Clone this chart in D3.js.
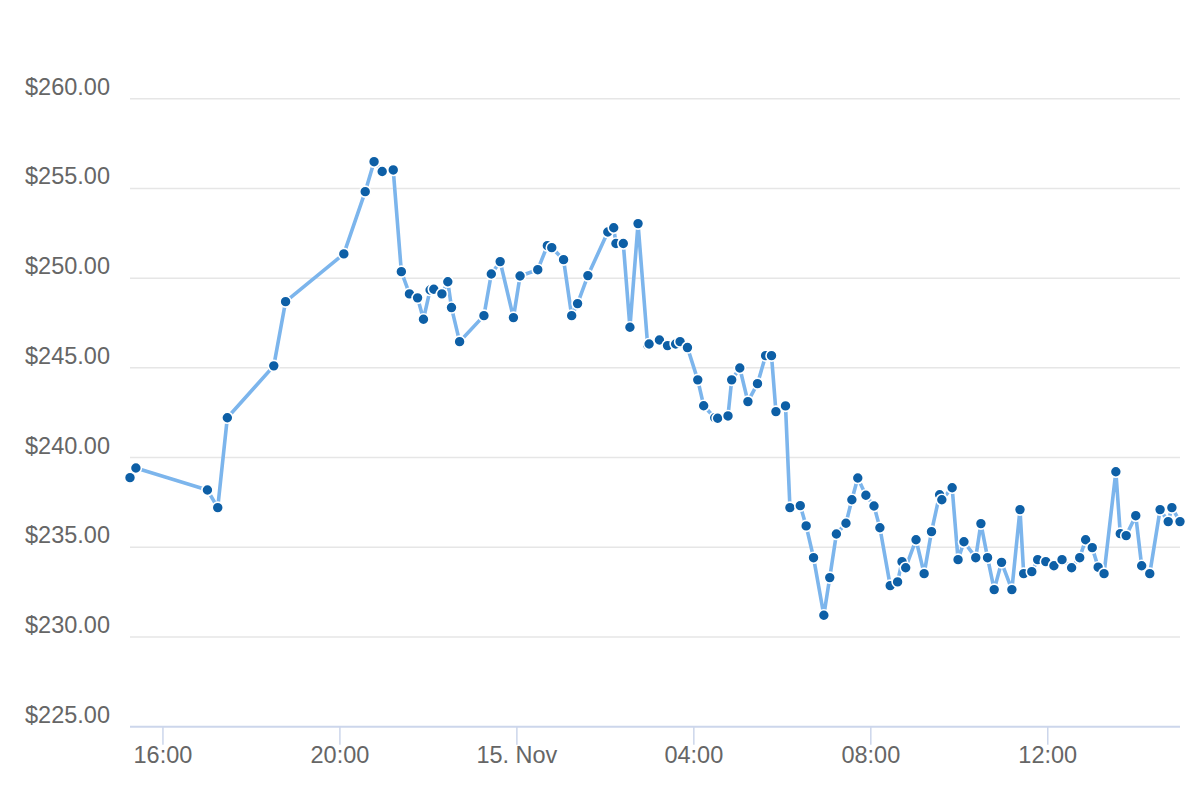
<!DOCTYPE html>
<html>
<head>
<meta charset="utf-8">
<script src="https://cdn.jsdelivr.net/npm/d3@7"></script>
<style>
  html, body { margin: 0; padding: 0; background: #ffffff; }
  svg { display: block; }
  text { font-family: "Liberation Sans", Arial, Helvetica, sans-serif; }
</style>
</head>
<body>
<svg id="chart" width="1200" height="800"></svg>
<script>
// ---- Data ----
const times = [
  "2024-11-14 15:16","2024-11-14 15:24","2024-11-14 17:01","2024-11-14 17:15","2024-11-14 17:28",
  "2024-11-14 18:31","2024-11-14 18:47","2024-11-14 20:06","2024-11-14 20:35","2024-11-14 20:47",
  "2024-11-14 20:58","2024-11-14 21:13","2024-11-14 21:24","2024-11-14 21:35","2024-11-14 21:46",
  "2024-11-14 21:54","2024-11-14 22:03","2024-11-14 22:08","2024-11-14 22:19","2024-11-14 22:27",
  "2024-11-14 22:32","2024-11-14 22:43","2024-11-14 23:16","2024-11-14 23:26","2024-11-14 23:38",
  "2024-11-14 23:56","2024-11-15 00:05","2024-11-15 00:29","2024-11-15 00:42","2024-11-15 00:48",
  "2024-11-15 01:04","2024-11-15 01:15","2024-11-15 01:23","2024-11-15 01:37","2024-11-15 02:04",
  "2024-11-15 02:12","2024-11-15 02:15","2024-11-15 02:25","2024-11-15 02:34","2024-11-15 02:45",
  "2024-11-15 02:58","2024-11-15 03:00","2024-11-15 03:14","2024-11-15 03:25","2024-11-15 03:36",
  "2024-11-15 03:42","2024-11-15 03:52","2024-11-15 04:06","2024-11-15 04:14","2024-11-15 04:29",
  "2024-11-15 04:33","2024-11-15 04:47","2024-11-15 04:52","2024-11-15 05:03","2024-11-15 05:14",
  "2024-11-15 05:27","2024-11-15 05:38","2024-11-15 05:46","2024-11-15 05:52","2024-11-15 06:05",
  "2024-11-15 06:11","2024-11-15 06:25","2024-11-15 06:33","2024-11-15 06:43","2024-11-15 06:57",
  "2024-11-15 07:05","2024-11-15 07:14","2024-11-15 07:27","2024-11-15 07:35","2024-11-15 07:43",
  "2024-11-15 07:54","2024-11-15 08:05","2024-11-15 08:13","2024-11-15 08:27","2024-11-15 08:37",
  "2024-11-15 08:43","2024-11-15 08:48","2024-11-15 09:02","2024-11-15 09:13","2024-11-15 09:23",
  "2024-11-15 09:34","2024-11-15 09:37","2024-11-15 09:51","2024-11-15 09:59","2024-11-15 10:07",
  "2024-11-15 10:23","2024-11-15 10:30","2024-11-15 10:39","2024-11-15 10:48","2024-11-15 10:58",
  "2024-11-15 11:12","2024-11-15 11:23","2024-11-15 11:28","2024-11-15 11:39","2024-11-15 11:47",
  "2024-11-15 11:58","2024-11-15 12:09","2024-11-15 12:20","2024-11-15 12:33","2024-11-15 12:44",
  "2024-11-15 12:52","2024-11-15 13:01","2024-11-15 13:09","2024-11-15 13:17","2024-11-15 13:33",
  "2024-11-15 13:39","2024-11-15 13:47","2024-11-15 14:00","2024-11-15 14:08","2024-11-15 14:19",
  "2024-11-15 14:33","2024-11-15 14:44","2024-11-15 14:49","2024-11-15 15:00"
];
const prices = [
  238.88,239.42,238.19,237.21,242.22,
  245.11,248.69,251.35,254.82,256.49,
  255.94,256.03,250.36,249.12,248.90,
  247.71,249.34,249.38,249.12,249.80,
  248.36,246.46,247.91,250.23,250.92,
  247.80,250.12,250.47,251.81,251.70,
  251.03,247.91,248.58,250.14,252.57,
  252.81,251.93,251.93,247.26,253.04,
  246.28,246.33,246.55,246.24,246.33,
  246.46,246.13,244.33,242.89,242.22,
  242.19,242.32,244.33,244.99,243.12,
  244.12,245.68,245.68,242.56,242.88,
  237.21,237.32,236.19,234.42,231.21,
  233.31,235.74,236.34,237.65,238.86,
  237.90,237.30,236.09,232.86,233.07,
  234.20,233.86,235.42,233.53,235.87,
  237.93,237.65,238.32,234.31,235.31,
  234.42,236.32,234.42,232.64,234.16,
  232.64,237.10,233.53,233.64,234.31,
  234.20,233.97,234.31,233.86,234.42,
  235.42,234.98,233.89,233.53,239.21,
  235.76,235.65,236.76,233.97,233.53,
  237.10,236.43,237.21,236.43
];
const yTicks = [225, 230, 235, 240, 245, 250, 255, 260];
const xTickTimes = ["2024-11-14 16:00","2024-11-14 20:00","2024-11-15 00:00","2024-11-15 04:00","2024-11-15 08:00","2024-11-15 12:00"];
const xTickLabels = ["16:00","20:00","15. Nov","04:00","08:00","12:00"];

// ---- Build ----
(function () {
const parse = d3.timeParse("%Y-%m-%d %H:%M");
const data = times.map((t, i) => ({ t: parse(t), v: prices[i] }));
const tickDates = xTickTimes.map(parse);

const svg = d3.select("#chart");
const plotL = 130, plotR = 1180, plotT = 98.7, plotB = 726.7;

const x = d3.scaleTime().domain(d3.extent(data, d => d.t)).range([plotL, plotR]);
const y = d3.scaleLinear().domain([225, 260]).range([plotB, plotT]);

// grid lines
svg.append("g").selectAll("line").data(yTicks.filter(v => v !== 225)).join("line")
  .attr("x1", plotL).attr("x2", plotR)
  .attr("y1", d => y(d)).attr("y2", d => y(d))
  .attr("stroke", "#e6e6e6").attr("stroke-width", 1.5);

// y axis labels
const yAxis = d3.axisLeft(y).tickValues(yTicks).tickSize(0).tickPadding(0)
  .tickFormat(d => "$" + d3.format(".2f")(d));
const gy = svg.append("g").attr("transform", `translate(110,0)`).call(yAxis);
gy.select(".domain").remove();
gy.selectAll("text")
  .attr("fill", "#666666").attr("font-size", "23.5px")
  .attr("font-family", "'Liberation Sans', Arial, sans-serif")
  .attr("dy", null).attr("y", -4.5).attr("x", 0)
  .attr("text-anchor", "end");

// x axis
const xAxis = d3.axisBottom(x).tickValues(tickDates).tickSize(18).tickPadding(0)
  .tickFormat((d, i) => xTickLabels[i]);
const gx = svg.append("g").attr("transform", `translate(0,${plotB})`).call(xAxis);
gx.select(".domain").attr("d", `M${plotL},0H${plotR}`).attr("stroke", "#ccd6eb").attr("stroke-width", 2);
gx.selectAll(".tick line").attr("stroke", "#ccd6eb").attr("stroke-width", 1.5);
gx.selectAll("text")
  .attr("fill", "#666666").attr("font-size", "23.5px")
  .attr("font-family", "'Liberation Sans', Arial, sans-serif")
  .attr("dy", null).attr("y", 36.5);

// line
const line = d3.line().x(d => x(d.t)).y(d => y(d.v));
svg.append("path").datum(data)
  .attr("d", line)
  .attr("fill", "none")
  .attr("stroke", "#7cb5ec")
  .attr("stroke-width", 3.6)
  .attr("stroke-linejoin", "round")
  .attr("stroke-linecap", "round");

// markers
svg.append("g").selectAll("circle").data(data).join("circle")
  .attr("cx", d => x(d.t)).attr("cy", d => y(d.v))
  .attr("r", 5.5)
  .attr("fill", "#0d5fa6")
  .attr("stroke", "#ffffff")
  .attr("stroke-width", 1.6);
})();
</script>
</body>
</html>
